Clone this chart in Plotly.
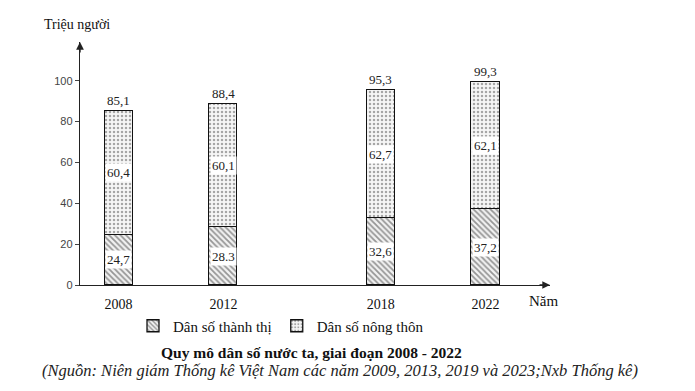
import plotly.graph_objects as go

years = [2008, 2012, 2018, 2022]
urban = [24.7, 28.3, 32.6, 37.2]
rural = [60.4, 60.1, 62.7, 62.1]
urban_labels = ["24,7", "28.3", "32,6", "37,2"]
rural_labels = ["60,4", "60,1", "62,7", "62,1"]
total_labels = ["85,1", "88,4", "95,3", "99,3"]
y_ticks = [0, 20, 40, 60, 80, 100]

SERIF = "Liberation Serif"
W, H = 695, 391
L, R, T, B = 80, 145, 42, 106
XMIN, XMAX = 2006.53, 2024.46
YMAX = 119

fig = go.Figure()
fig.add_trace(go.Bar(
    x=years, y=urban, name="Dân số thành thị", width=1.07,
    marker=dict(color="white", line=dict(color="#111", width=1.3),
                pattern=dict(shape="\\", fgcolor="#3a3a3a", bgcolor="#f2f2f2", size=4, solidity=0.45)),
))
fig.add_trace(go.Bar(
    x=years, y=rural, name="Dân số nông thôn", width=1.07,
    marker=dict(color="white", line=dict(color="#111", width=1.3),
                pattern=dict(shape=".", fgcolor="#555", bgcolor="#f6f6f6", size=4, solidity=0.3)),
))

annotations = []
for yr, u, r, ul, rl, tl in zip(years, urban, rural, urban_labels, rural_labels, total_labels):
    annotations.append(dict(x=yr, y=u / 2, xref="x", yref="y", text=ul, showarrow=False,
                            bgcolor="white", borderpad=1,
                            font=dict(family=SERIF, size=13, color="#222")))
    annotations.append(dict(x=yr, y=u + r / 2, xref="x", yref="y", text=rl, showarrow=False,
                            bgcolor="white", borderpad=1,
                            font=dict(family=SERIF, size=13, color="#222")))
    annotations.append(dict(x=yr, y=u + r, xref="x", yref="y", text=tl, showarrow=False,
                            yanchor="bottom", yshift=1,
                            font=dict(family=SERIF, size=13, color="#222")))

# axis arrows
annotations.append(dict(x=XMAX, y=0, xref="x", yref="y", ax=-12, ay=0, text="",
                        showarrow=True, arrowhead=2, arrowsize=1.1, arrowwidth=1.4, arrowcolor="#222"))
annotations.append(dict(x=XMIN, y=YMAX, xref="x", yref="y", ax=0, ay=12, text="",
                        showarrow=True, arrowhead=2, arrowsize=1.1, arrowwidth=1.4, arrowcolor="#222"))

pw = W - L - R
ph = H - T - B
def px_x(p):
    return (p - L) / pw
def px_y(p):
    return (H - B - p) / ph

annotations.append(dict(x=px_x(42), y=px_y(25), xref="paper", yref="paper", text="Triệu người",
                        showarrow=False, xanchor="left", yanchor="middle",
                        font=dict(family=SERIF, size=14, color="#111")))
annotations.append(dict(x=px_x(543), y=px_y(301), xref="paper", yref="paper", text="Năm",
                        showarrow=False, xanchor="center", yanchor="middle",
                        font=dict(family=SERIF, size=15, color="#111")))
annotations.append(dict(x=px_x(311), y=px_y(352), xref="paper", yref="paper",
                        text="<b>Quy mô dân số nước ta, giai đoạn 2008 - 2022</b>",
                        showarrow=False, xanchor="center", yanchor="middle",
                        font=dict(family=SERIF, size=15.5, color="#111")))
annotations.append(dict(x=px_x(340), y=px_y(370), xref="paper", yref="paper",
                        text="<i>(Nguồn: Niên giám Thống kê Việt Nam các năm 2009, 2013, 2019 và 2023;Nxb Thống kê)</i>",
                        showarrow=False, xanchor="center", yanchor="middle",
                        font=dict(family=SERIF, size=16.5, color="#222")))

fig.update_layout(
    width=W, height=H, barmode="stack",
    margin=dict(l=L, r=R, t=T, b=B, pad=0),
    paper_bgcolor="white", plot_bgcolor="white",
    showlegend=True,
    legend=dict(orientation="h", x=px_x(133), y=px_y(326), xanchor="left", yanchor="middle",
                font=dict(family=SERIF, size=15, color="#111"), itemwidth=30,
                traceorder="normal", bgcolor="rgba(0,0,0,0)"),
    annotations=annotations,
    xaxis=dict(range=[XMIN, XMAX], tickvals=years, ticktext=[str(y) for y in years],
               showline=True, linecolor="#222", linewidth=1.4, ticks="", showgrid=False,
               zeroline=False, ticklabelstandoff=6,
               tickfont=dict(family=SERIF, size=14, color="#111")),
    yaxis=dict(range=[0, YMAX], tickvals=y_ticks, showline=True, linecolor="#222", linewidth=1.4,
               ticks="outside", ticklen=4, tickcolor="#444", showgrid=False, zeroline=False,
               tickfont=dict(family="Liberation Sans", size=11, color="#444")),
    bargap=0,
)

fig.write_html("out.html", config={"displayModeBar": False},
               post_script="document.body.style.margin='0';")
